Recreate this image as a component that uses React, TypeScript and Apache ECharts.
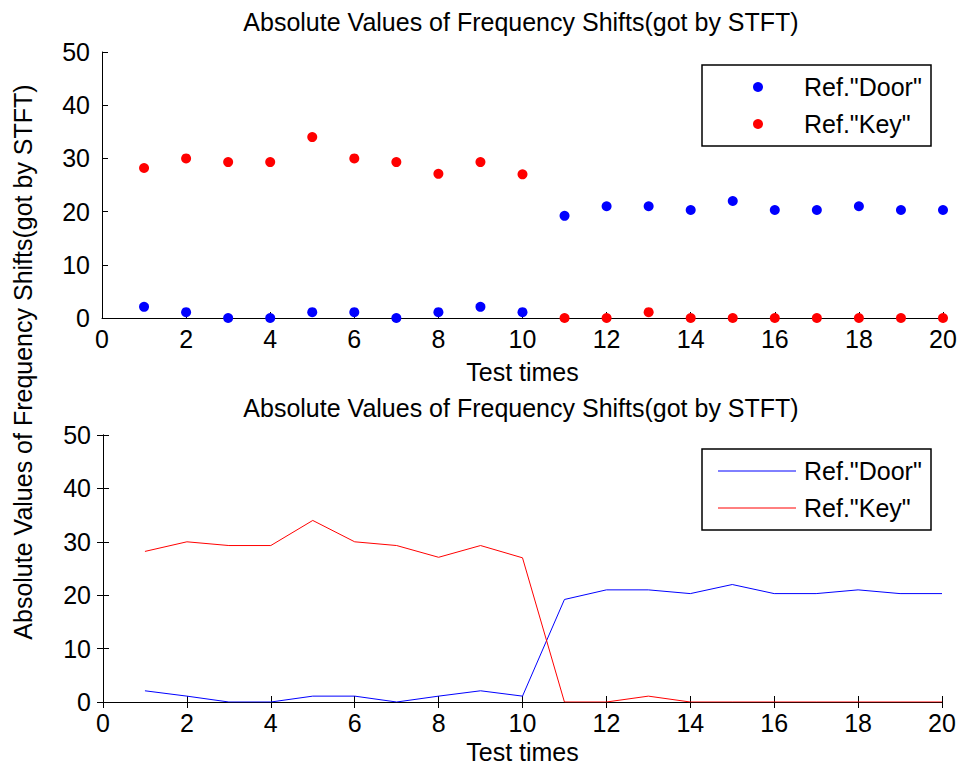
import React, { useEffect, useRef } from "react";
import * as echarts from "echarts";

const testTimes = [1, 2, 3, 4, 5, 6, 7, 8, 9, 10, 11, 12, 13, 14, 15, 16, 17, 18, 19, 20];
const doorShift = [2.1, 1.1, 0, 0, 1.1, 1.1, 0, 1.1, 2.1, 1.1, 19.2, 21, 21, 20.3, 22, 20.3, 20.3, 21, 20.3, 20.3];
const keyShift = [28.2, 30, 29.3, 29.3, 34, 30, 29.3, 27.1, 29.3, 27, 0, 0, 1.1, 0, 0, 0, 0, 0, 0, 0];
const seriesNames = ['Ref."Door"', 'Ref."Key"'];
const titleText = "Absolute Values of Frequency Shifts(got by STFT)";
const yLabelText = "Absolute Values of Frequency Shifts(got by STFT)";
const xLabelText = "Test times";
const X_MIN = 0, X_MAX = 20, X_INTERVAL = 2;
const Y_MIN = 0, Y_MAX = 50, Y_INTERVAL = 10;

const FONT = "Liberation Sans, Arial, sans-serif";
const FS = 25;
const BLUE = "#0000ff";
const RED = "#ff0000";
const colors = [BLUE, RED];

const pairs = (ys: number[]) => testTimes.map((x, i) => [x, ys[i]]);

export default function App() {
  const ref = useRef<HTMLDivElement>(null);
  useEffect(() => {
    document.body.style.margin = "0";
    if (!ref.current) return;
    const chart = echarts.init(ref.current, null, { renderer: "svg" });
    const axisLine = { show: true, lineStyle: { color: "#000", width: 1 } };
    const tick = { show: true, inside: true, length: 6, lineStyle: { color: "#000" } };
    const label = { color: "#000", fontSize: FS, fontFamily: FONT };
    const xBase = (gridIndex: number) => ({
      type: "value", gridIndex, min: X_MIN, max: X_MAX, interval: X_INTERVAL,
      splitLine: { show: false }, axisLine, axisTick: tick,
    });
    const yBase = (gridIndex: number) => ({
      type: "value", gridIndex, min: Y_MIN, max: Y_MAX, interval: Y_INTERVAL,
      splitLine: { show: false }, axisLine, axisTick: tick,
    });
    const legendBox = (top: number, kind: "dot" | "line") => ({
      type: "group", z: 100,
      children: [
        { type: "rect", shape: { x: 702, y: top, width: 229, height: 81 },
          style: { fill: "#fff", stroke: "#000", lineWidth: 1.5 } },
        ...seriesNames.flatMap((name, i) => {
          const cy = top + 22 + i * 37;
          const icon = kind === "dot"
            ? { type: "circle", shape: { cx: 758, cy, r: 5 }, style: { fill: colors[i] } }
            : { type: "line", shape: { x1: 718, y1: cy, x2: 796, y2: cy }, style: { stroke: colors[i], lineWidth: 1 } };
          return [
            icon,
            { type: "text", x: 804, y: cy,
              style: { text: name, fill: "#000", font: `${FS}px ${FONT}`, verticalAlign: "middle", align: "left" } },
          ];
        }),
      ],
    });
    chart.setOption({
      animation: false,
      backgroundColor: "#fff",
      title: [
        { text: titleText, left: 521, top: 9, textAlign: "center", padding: 0,
          textStyle: { color: "#000", fontSize: FS, fontWeight: "normal", fontFamily: FONT } },
        { text: titleText, left: 521, top: 395, textAlign: "center", padding: 0,
          textStyle: { color: "#000", fontSize: FS, fontWeight: "normal", fontFamily: FONT } },
      ],
      grid: [
        { left: 102, top: 52, width: 841, height: 266 },
        { left: 103, top: 435, width: 839, height: 267 },
      ],
      xAxis: [
        { ...xBase(0), axisLabel: { ...label, margin: 8 },
          name: xLabelText, nameLocation: "middle", nameGap: 41,
          nameTextStyle: { color: "#000", fontSize: FS, fontFamily: FONT } },
        { ...xBase(1), axisLabel: { ...label, margin: 8 },
          name: xLabelText, nameLocation: "middle", nameGap: 37,
          nameTextStyle: { color: "#000", fontSize: FS, fontFamily: FONT } },
        { ...xBase(1), position: "top", axisLabel: { show: false } },
      ],
      yAxis: [
        { ...yBase(0), axisLabel: { ...label, margin: 12 } },
        { ...yBase(1), axisLabel: { ...label, margin: 12 } },
        { ...yBase(1), position: "right", axisLabel: { show: false } },
      ],
      graphic: [
        { type: "text", x: 23, y: 362, rotation: Math.PI / 2,
          style: { text: yLabelText, fill: "#000", font: `${FS}px ${FONT}`, align: "center", verticalAlign: "middle" } },
        legendBox(65, "dot"),
        legendBox(449, "line"),
      ],
      series: [
        { name: seriesNames[0], type: "scatter", xAxisIndex: 0, yAxisIndex: 0, symbol: "circle", symbolSize: 10,
          itemStyle: { color: BLUE, opacity: 1 }, data: pairs(doorShift), clip: false },
        { name: seriesNames[1], type: "scatter", xAxisIndex: 0, yAxisIndex: 0, symbol: "circle", symbolSize: 10,
          itemStyle: { color: RED, opacity: 1 }, data: pairs(keyShift), clip: false },
        { name: seriesNames[0], type: "line", xAxisIndex: 1, yAxisIndex: 1, symbol: "none", showSymbol: false,
          lineStyle: { color: BLUE, width: 1 }, itemStyle: { color: BLUE }, data: pairs(doorShift) },
        { name: seriesNames[1], type: "line", xAxisIndex: 1, yAxisIndex: 1, symbol: "none", showSymbol: false,
          lineStyle: { color: RED, width: 1 }, itemStyle: { color: RED }, data: pairs(keyShift) },
      ],
    });
    return () => chart.dispose();
  }, []);
  return <div ref={ref} style={{ width: 960, height: 768 }} />;
}
